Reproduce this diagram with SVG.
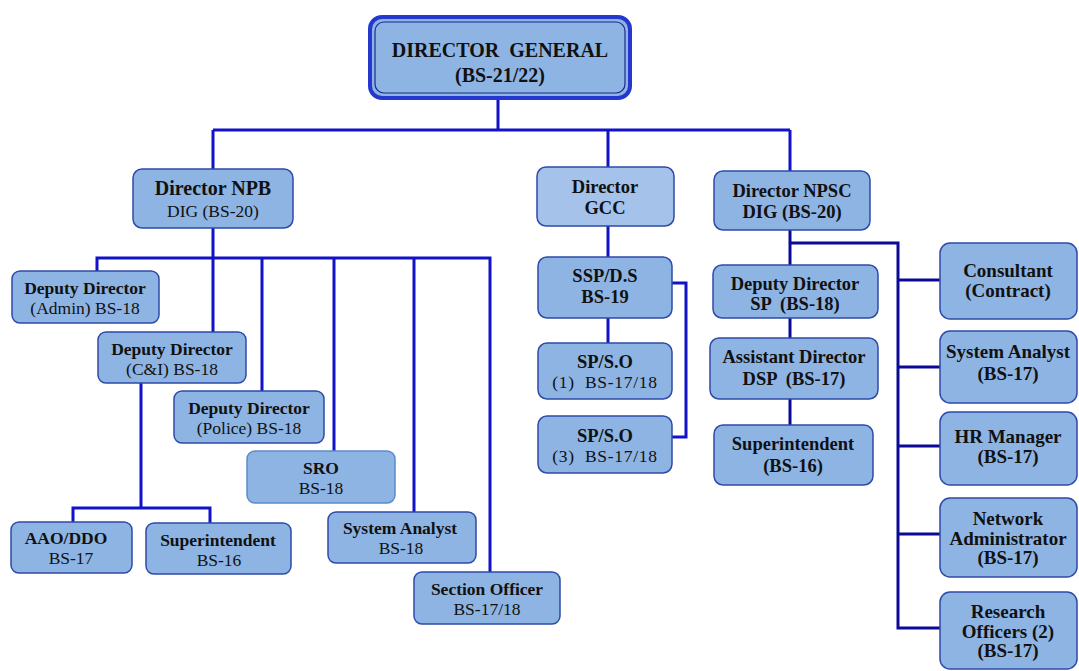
<svg xmlns="http://www.w3.org/2000/svg" width="1079" height="671" viewBox="0 0 1079 671">
  <style>
    .box { fill: #8EB4E3; stroke: #2F4AA8; stroke-width: 1.5; }
    .light { fill: #A4C2EA; }
    .sro { stroke: #5A8CC8; }
    .t { font-family: 'Liberation Serif', 'Times New Roman', serif; font-size: 17.5px; fill: #111; text-anchor: middle; }
    .b { font-weight: bold; }
    .big { font-size: 20px; }
    .top { font-size: 20px; }
    .np { font-size: 18.5px; }
    .rc { font-size: 19px; }
    .wire { fill: none; stroke: #1212C8; stroke-width: 3; stroke-linejoin: miter; }
    .navy { stroke: #0A0A96; }
  </style>

  <!-- connectors -->
  <g id="connectors">
    <path class="wire" d="M498 98 V130 M213 130 H790 M213 130 V169 M608 130 V167 M790 130 V171"/>
    <!-- NPB branch -->
    <path class="wire" d="M213 228 V332 M97 271 V258 H490 V572 M262 258 V391 M334 258 V451 M414 258 V512"/>
    <path class="wire" d="M141 383 V508 M73 522 V508 H210 V523"/>
    <!-- GCC branch -->
    <path class="wire" d="M608 226 V257 M608 318 V343 M672 283 H686 V437 H672"/>
    <!-- NPSC branch -->
    <path class="wire navy" d="M790 230 V265 M790 318 V338 M790 399 V425"/>
    <path class="wire navy" d="M790 243 H898 V628 H940 M898 280 H940 M898 367 H940 M898 446 H940 M898 534 H940"/>
  </g>

  <!-- top -->
  <g id="director-general">
    <rect x="370" y="17" width="260" height="81" rx="12" fill="#8EB4E3" stroke="#2438D0" stroke-width="4"/>
    <rect x="375" y="22" width="250" height="71" rx="9" fill="none" stroke="#1C2A8C" stroke-width="1.2"/>
    <text class="t b big" x="500" y="57" xml:space="preserve">DIRECTOR  GENERAL</text>
    <text class="t b big" x="500" y="82">(BS-21/22)</text>
  </g>

  <g id="director-npb">
    <rect class="box" x="133" y="169" width="160" height="59" rx="9"/>
    <text class="t b top" x="213" y="195">Director NPB</text>
    <text class="t" x="213" y="217">DIG (BS-20)</text>
  </g>
  <g id="director-gcc">
    <rect class="box light" x="537" y="167" width="137" height="59" rx="9"/>
    <text class="t b np" x="605" y="193">Director</text>
    <text class="t b np" x="605" y="214">GCC</text>
  </g>
  <g id="director-npsc">
    <rect class="box" x="714" y="171" width="156" height="59" rx="9"/>
    <text class="t b np" x="792" y="197">Director NPSC</text>
    <text class="t b np" x="792" y="218">DIG (BS-20)</text>
  </g>

  <!-- NPB units -->
  <g id="dd-admin">
    <rect class="box" x="12" y="271" width="147" height="52" rx="8"/>
    <text class="t b" x="85" y="294">Deputy Director</text>
    <text class="t" x="85" y="314">(Admin) BS-18</text>
  </g>
  <g id="dd-ci">
    <rect class="box" x="98" y="332" width="148" height="51" rx="8"/>
    <text class="t b" x="172" y="355">Deputy Director</text>
    <text class="t" x="172" y="375">(C&amp;I) BS-18</text>
  </g>
  <g id="dd-police">
    <rect class="box" x="174" y="391" width="150" height="52" rx="8"/>
    <text class="t b" x="249" y="414">Deputy Director</text>
    <text class="t" x="249" y="434">(Police) BS-18</text>
  </g>
  <g id="sro">
    <rect class="box sro" x="247" y="451" width="148" height="52" rx="8"/>
    <text class="t b" x="321" y="474">SRO</text>
    <text class="t" x="321" y="494">BS-18</text>
  </g>
  <g id="system-analyst-npb">
    <rect class="box" x="328" y="512" width="148" height="51" rx="8"/>
    <text class="t b" x="400" y="534">System Analyst</text>
    <text class="t" x="401" y="554">BS-18</text>
  </g>
  <g id="section-officer">
    <rect class="box" x="414" y="572" width="146" height="52" rx="8"/>
    <text class="t b" x="487" y="595">Section Officer</text>
    <text class="t" x="487" y="615">BS-17/18</text>
  </g>
  <g id="aao-ddo">
    <rect class="box" x="11" y="522" width="121" height="51" rx="8"/>
    <text class="t b" x="66" y="544">AAO/DDO</text>
    <text class="t" x="71" y="564">BS-17</text>
  </g>
  <g id="superintendent-npb">
    <rect class="box" x="146" y="523" width="145" height="51" rx="8"/>
    <text class="t b" x="218" y="546">Superintendent</text>
    <text class="t" x="219" y="566">BS-16</text>
  </g>

  <!-- GCC units -->
  <g id="ssp-ds">
    <rect class="box" x="538" y="257" width="134" height="61" rx="9"/>
    <text class="t b np" x="605" y="282">SSP/D.S</text>
    <text class="t b np" x="605" y="303">BS-19</text>
  </g>
  <g id="sp-so-1">
    <rect class="box" x="538" y="343" width="134" height="56" rx="9"/>
    <text class="t b np" x="605" y="368">SP/S.O</text>
    <text class="t" x="605" y="388" letter-spacing="0.7" xml:space="preserve">(1)  BS-17/18</text>
  </g>
  <g id="sp-so-3">
    <rect class="box" x="538" y="416" width="134" height="57" rx="9"/>
    <text class="t b np" x="605" y="442">SP/S.O</text>
    <text class="t" x="605" y="462" letter-spacing="0.7" xml:space="preserve">(3)  BS-17/18</text>
  </g>

  <!-- NPSC units -->
  <g id="dd-sp">
    <rect class="box" x="713" y="265" width="165" height="53" rx="9"/>
    <text class="t b np" x="795" y="290">Deputy Director</text>
    <text class="t b np" x="795" y="310" xml:space="preserve">SP  (BS-18)</text>
  </g>
  <g id="ad-dsp">
    <rect class="box" x="710" y="338" width="168" height="61" rx="9"/>
    <text class="t b np" x="794" y="363">Assistant Director</text>
    <text class="t b np" x="794" y="385" xml:space="preserve">DSP  (BS-17)</text>
  </g>
  <g id="superintendent-npsc">
    <rect class="box" x="714" y="425" width="159" height="60" rx="9"/>
    <text class="t b np" x="793" y="450">Superintendent</text>
    <text class="t b np" x="793" y="472">(BS-16)</text>
  </g>
  <g id="consultant">
    <rect class="box" x="940" y="243" width="137" height="76" rx="10"/>
    <text class="t b rc" x="1008" y="277">Consultant</text>
    <text class="t b rc" x="1008" y="297">(Contract)</text>
  </g>
  <g id="system-analyst-npsc">
    <rect class="box" x="940" y="331" width="137" height="72" rx="10"/>
    <text class="t b rc" x="1008" y="358">System Analyst</text>
    <text class="t b rc" x="1008" y="380">(BS-17)</text>
  </g>
  <g id="hr-manager">
    <rect class="box" x="940" y="412" width="137" height="73" rx="10"/>
    <text class="t b rc" x="1008" y="443">HR Manager</text>
    <text class="t b rc" x="1008" y="463">(BS-17)</text>
  </g>
  <g id="network-administrator">
    <rect class="box" x="940" y="498" width="137" height="79" rx="10"/>
    <text class="t b rc" x="1008" y="525">Network</text>
    <text class="t b rc" x="1008" y="545">Administrator</text>
    <text class="t b rc" x="1008" y="564">(BS-17)</text>
  </g>
  <g id="research-officers">
    <rect class="box" x="940" y="592" width="137" height="77" rx="10"/>
    <text class="t b rc" x="1008" y="618">Research</text>
    <text class="t b rc" x="1008" y="638">Officers (2)</text>
    <text class="t b rc" x="1008" y="657">(BS-17)</text>
  </g>
</svg>
